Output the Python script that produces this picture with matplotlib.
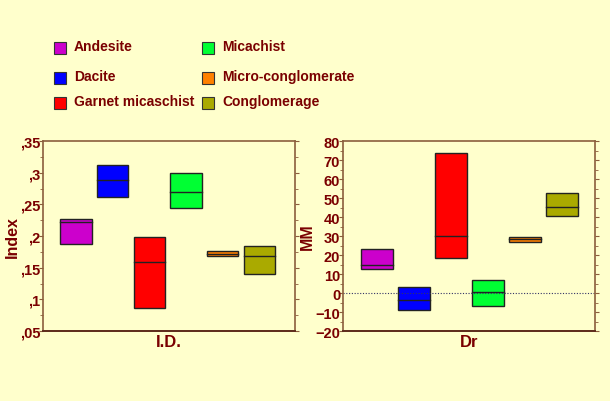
import matplotlib
matplotlib.use("Agg")
import matplotlib.pyplot as plt
from matplotlib.patches import Rectangle
from matplotlib.ticker import MultipleLocator, FuncFormatter

rocks = ["Andesite", "Dacite", "Garnet micaschist", "Micachist",
         "Micro-conglomerate", "Conglomerage"]
colors = ["#CC00CC", "#0000FF", "#FF0000", "#00FF33", "#FF8000", "#AAAA00"]

# box ranges (low, high) and median line
index_low = [0.188, 0.261, 0.087, 0.245, 0.168, 0.140]
index_high = [0.227, 0.312, 0.199, 0.300, 0.176, 0.184]
index_mid = [0.222, 0.288, 0.159, 0.269, 0.172, 0.168]

mm_low = [12.4, -8.7, 18.6, -6.8, 26.7, 40.4]
mm_high = [23.0, 3.2, 73.5, 6.9, 29.3, 52.9]
mm_mid = [14.7, -3.6, 30.0, 0.6, 28.2, 45.1]

BG = "#FFFFCC"
TXT = "#7A0000"
SPINE = "#8B5E3C"

plt.rcParams["font.family"] = ["Liberation Sans", "DejaVu Sans"]
plt.rcParams["font.weight"] = "bold"

fig = plt.figure(figsize=(6.1, 4.02), dpi=100, facecolor=BG)
ax1 = fig.add_axes([0.0705, 0.174, 0.413, 0.4726])
ax2 = fig.add_axes([0.5623, 0.174, 0.413, 0.4726])


def draw_boxes(ax, lows, highs, mids):
    for i, (lo, hi, md) in enumerate(zip(lows, highs, mids)):
        x = i + 1
        ax.add_patch(Rectangle((x - 0.43, lo), 0.86, hi - lo,
                               facecolor=colors[i], edgecolor="#222222", lw=1))
        ax.plot([x - 0.43, x + 0.43], [md, md], color="#222222", lw=1)


def style(ax, xlabel, ylabel):
    ax.set_facecolor(BG)
    for s in ["top", "left", "right"]:
        ax.spines[s].set_color(SPINE)
        ax.spines[s].set_linewidth(1.2)
    ax.spines["bottom"].set_color("#5C2A1A")
    ax.spines["bottom"].set_linewidth(1.4)
    ax.set_xticks([])
    ax.tick_params(axis="y", which="both", direction="out", color=SPINE,
                   labelcolor=TXT, labelsize=10.5, pad=-1, right=True)
    ax.tick_params(axis="y", which="major", length=3)
    ax.tick_params(axis="y", which="minor", length=2)
    ax.set_xlabel(xlabel, color=TXT, fontsize=12, fontweight="bold", labelpad=2)
    ax.set_ylabel(ylabel, color=TXT, fontsize=11.5, fontweight="bold", labelpad=0)


draw_boxes(ax1, index_low, index_high, index_mid)
ax1.set_xlim(0.1, 6.97)
ax1.set_ylim(0.05, 0.35)
ax1.yaxis.set_major_locator(MultipleLocator(0.05))
ax1.yaxis.set_minor_locator(MultipleLocator(0.025))
ax1.yaxis.set_major_formatter(FuncFormatter(
    lambda v, p: ("%g" % round(v, 3)).lstrip("0").replace(".", ",")))
style(ax1, "I.D.", "Index")

draw_boxes(ax2, mm_low, mm_high, mm_mid)
ax2.axhline(0, color="#333366", lw=0.8, ls=(0, (1, 1.5)))
ax2.set_xlim(0.08, 6.9)
ax2.set_ylim(-20, 80)
ax2.yaxis.set_major_locator(MultipleLocator(10))
ax2.yaxis.set_minor_locator(MultipleLocator(5))
style(ax2, "Dr", "MM")

# legend drawn as squares and text in figure coords
leg_x = [54, 202]
leg_y = [49, 79, 104]
for i, name in enumerate(rocks):
    col, row = (0, i) if i < 3 else (1, i - 3)
    x, y = leg_x[col], leg_y[row]
    fig.patches.append(Rectangle((x / 610, 1 - (y + 6) / 402), 12 / 610, 12 / 402,
                                 transform=fig.transFigure, facecolor=colors[i],
                                 edgecolor="#333333", lw=0.8))
    fig.text((x + 20) / 610, 1 - (y - 2) / 402, name, color=TXT, fontsize=10,
             fontweight="bold", va="center", ha="left")

fig.savefig("out.png", dpi=100, facecolor=BG)
